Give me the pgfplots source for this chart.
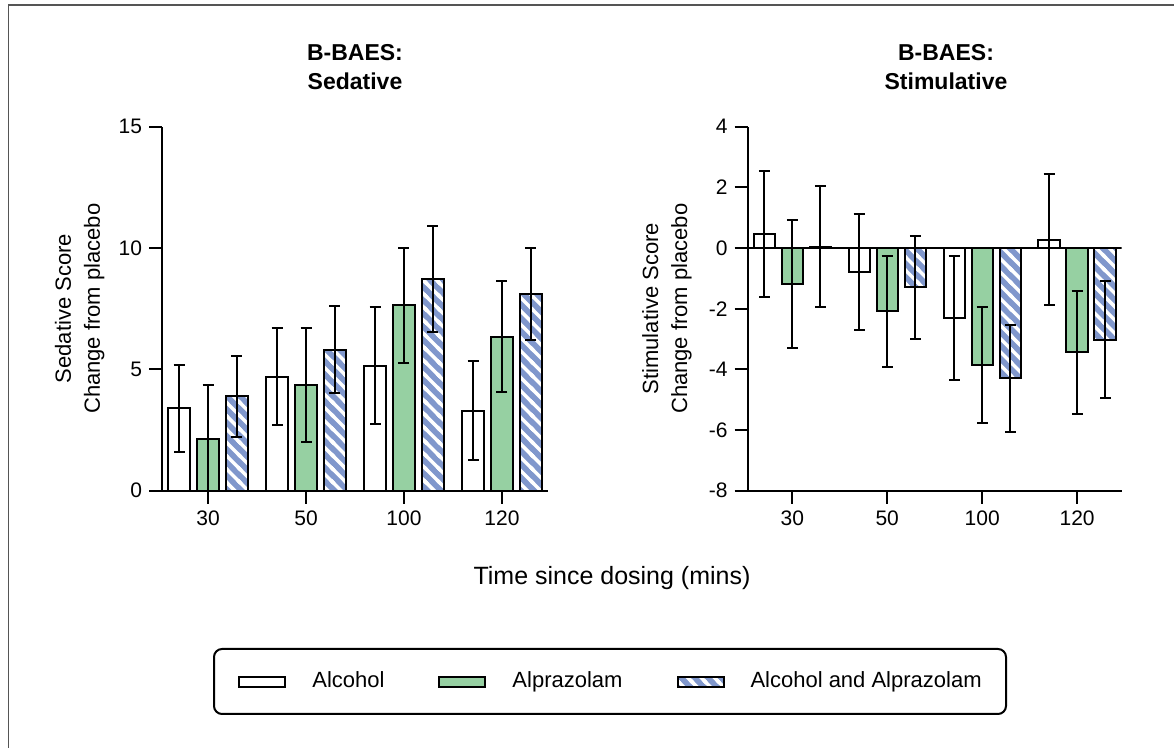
\documentclass[border=0pt]{standalone}
\usepackage{pgfplots}
\pgfplotsset{compat=1.18}
\usepackage{fontspec}
\setmainfont{Liberation Sans}
\usetikzlibrary{patterns}
\definecolor{greenc}{HTML}{96D0A2}
\definecolor{bluec}{HTML}{8097CC}
\definecolor{framec}{HTML}{555555}
\pgfdeclarepatternformonly{mystripes}{\pgfqpoint{-1pt}{-1pt}}{\pgfqpoint{7.65pt}{7.65pt}}{\pgfqpoint{6.65pt}{6.65pt}}{%
  \pgfsetlinewidth{1.7pt}%
  \pgfpathmoveto{\pgfqpoint{-1pt}{7.65pt}}\pgfpathlineto{\pgfqpoint{7.65pt}{-1pt}}%
  \pgfpathmoveto{\pgfqpoint{-1pt}{1pt}}\pgfpathlineto{\pgfqpoint{1pt}{-1pt}}%
  \pgfpathmoveto{\pgfqpoint{5.65pt}{7.65pt}}\pgfpathlineto{\pgfqpoint{7.65pt}{5.65pt}}%
  \pgfusepath{stroke}}
\pgfplotsset{
  myaxis/.style={
    scale only axis,
    axis lines=left,
    axis line style={-, line width=1pt},
    tick style={line width=1pt, black},
    tick align=outside,
    major tick length=6.5pt,
    xmin=-0.47, xmax=3.47,
    xtick={0,1,2,3},
    xticklabels={30,50,100,120},
    ybar,
    bar width=0.224,
    /pgf/number format/assume math mode=true,
    tick label style={font=\fontsize{10.5}{12}\selectfont},
    ylabel style={font=\fontsize{11}{14.5}\selectfont, align=center, inner sep=0pt, anchor=south, rotate=0},
  },
  mylegend/.style={legend image code/.code={\draw[##1, line width=1pt] (0pt,-2.5pt) rectangle (23pt,2.5pt);}},
  stripelegend/.style={legend image code/.code={%
    \fill[bluec] (0pt,-2.5pt) rectangle (23pt,2.5pt);
    \draw[##1, line width=1pt] (0pt,-2.5pt) rectangle (23pt,2.5pt);}},
  errs/.style={
    /pgfplots/error bars/y dir=both,
    /pgfplots/error bars/y explicit,
    /pgfplots/error bars/error mark=-,
    /pgfplots/error bars/error bar style={line width=1pt, draw=black, solid},
    /pgfplots/error bars/error mark options={rotate=90, line width=1pt, draw=black, mark size=2.75pt},
  },
  alc/.style={draw=black, line width=1pt, fill=white, bar shift=-0.295, mylegend, errs},
  alp/.style={draw=black, line width=1pt, fill=greenc, bar shift=0, mylegend, errs},
  bothfill/.style={forget plot, draw=none, fill=bluec, bar shift=0.295},
  both/.style={draw=black, line width=1pt, pattern=mystripes, pattern color=white, bar shift=0.295, stripelegend, errs},
}
\begin{document}
\begin{tikzpicture}
\path[use as bounding box] (0,0) rectangle (587pt,374pt);
\draw[framec, line width=0.75pt] (4.25pt,0) -- (4.25pt,371.5pt) -- (587pt,371.5pt);

\begin{axis}[myaxis,
  at={(81pt,128.65pt)}, anchor=south west,
  width=193pt, height=182pt,
  ymin=0, ymax=15, ytick={0,5,10,15},
  ylabel={Sedative Score\\Change from placebo},
  ylabel style={at={(axis description cs:-0.148,0.5)}},
  legend columns=3,
  legend style={at={(1.1606,-0.5242)}, anchor=center, draw=none, fill=none,
    font=\fontsize{11}{13}\selectfont, inner sep=0pt,
    nodes={inner sep=0pt, anchor=west},
    /tikz/every odd column/.append style={column sep=13pt},
    /tikz/every even column/.append style={column sep=27pt}},
  legend cell align=left,
]
\addplot[alc] coordinates {(0,3.39) +- (0,1.80) (1,4.70) +- (0,2.00) (2,5.15) +- (0,2.40) (3,3.30) +- (0,2.05)};
\addlegendentry{Alcohol}
\addplot[alp] coordinates {(0,2.14) +- (0,2.20) (1,4.34) +- (0,2.35) (2,7.65) +- (0,2.37) (3,6.35) +- (0,2.29)};
\addlegendentry{Alprazolam}
\addplot[bothfill] coordinates {(0,3.90) (1,5.81) (2,8.74) (3,8.09)};
\addplot[both] coordinates {(0,3.90) +- (0,1.67) (1,5.81) +- (0,1.80) (2,8.74) +- (0,2.18) (3,8.09) +- (0,1.90)};
\addlegendentry{Alcohol and Alprazolam}
\end{axis}

\begin{axis}[myaxis,
  at={(373.85pt,128.65pt)}, anchor=south west,
  width=187pt, height=182pt,
  ymin=-8, ymax=4, ytick={-8,-6,-4,-2,0,2,4},
  ylabel={Stimulative Score\\Change from placebo},
  ylabel style={at={(axis description cs:-0.149,0.5)}},
]
\addplot[alc] coordinates {(0,0.47) +- (0,2.08) (1,-0.79) +- (0,1.90) (2,-2.31) +- (0,2.04) (3,0.27) +- (0,2.16)};
\addplot[alp] coordinates {(0,-1.18) +- (0,2.10) (1,-2.09) +- (0,1.82) (2,-3.85) +- (0,1.92) (3,-3.44) +- (0,2.02)};
\addplot[bothfill] coordinates {(0,0.04) (1,-1.30) (2,-4.29) (3,-3.03)};
\addplot[both] coordinates {(0,0.04) +- (0,2.00) (1,-1.30) +- (0,1.70) (2,-4.29) +- (0,1.76) (3,-3.03) +- (0,1.93)};
\draw[line width=1pt, black] (axis cs:-0.47,0) -- (axis cs:3.47,0);
\end{axis}

\node[font=\fontsize{11.5}{14}\selectfont\bfseries, anchor=base] at (177.5pt,343.65pt) {B-BAES:};
\node[font=\fontsize{11.5}{14}\selectfont\bfseries, anchor=base] at (177.5pt,329.35pt) {Sedative};
\node[font=\fontsize{11.5}{14}\selectfont\bfseries, anchor=base] at (473pt,343.65pt) {B-BAES:};
\node[font=\fontsize{11.5}{14}\selectfont\bfseries, anchor=base] at (473pt,329.35pt) {Stimulative};
\node[font=\fontsize{12.5}{15}\selectfont] at (306pt,85pt) {Time since dosing (mins)};
\draw[line width=1pt, rounded corners=4pt] (107pt,17pt) rectangle (503pt,49.5pt);
\end{tikzpicture}
\end{document}
